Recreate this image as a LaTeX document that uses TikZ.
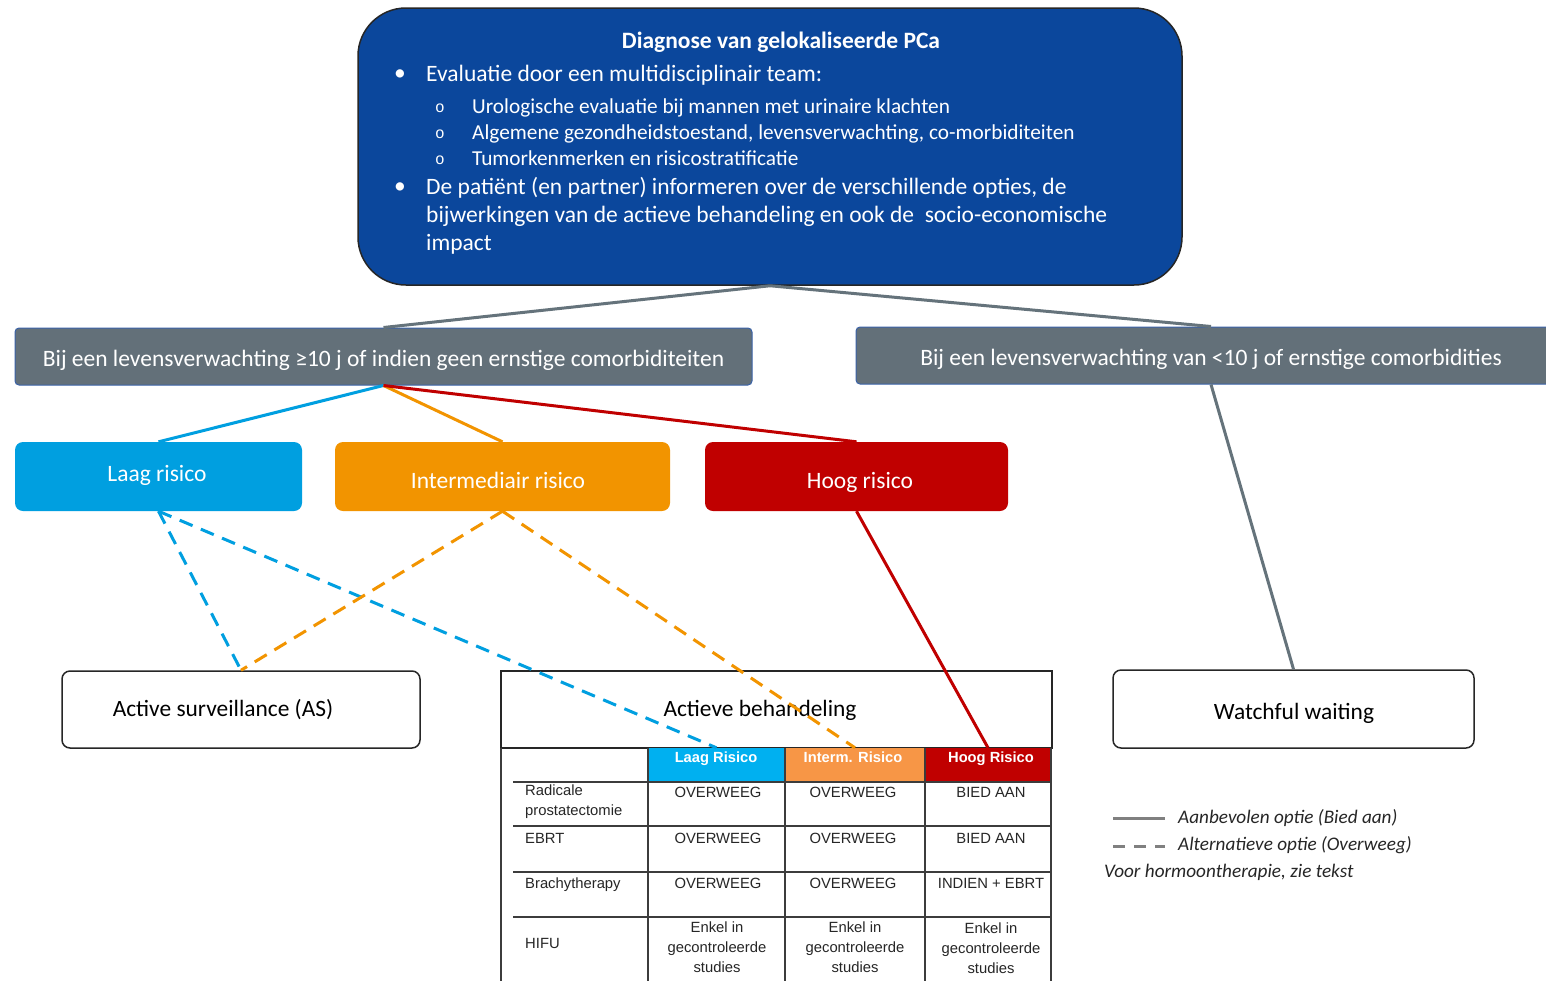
\documentclass[tikz,border=0pt]{standalone}
\usepackage{fontspec}
\setmainfont{Carlito}
\newfontfamily\arialf{Liberation Sans}
\newfontfamily\monof{Liberation Mono}
\definecolor{topblue}{HTML}{0B479C}
\definecolor{slate}{HTML}{637079}
\definecolor{slateline}{HTML}{65737B}
\definecolor{edgeblue}{HTML}{3A62A8}
\definecolor{laagc}{HTML}{009FE0}
\definecolor{interc}{HTML}{F29400}
\definecolor{hoogc}{HTML}{C00000}
\definecolor{hlaag}{HTML}{00B0F0}
\definecolor{hinter}{HTML}{F79646}
\definecolor{tline}{HTML}{3C3C3C}
\definecolor{legline}{HTML}{808080}
\begin{document}
\begin{tikzpicture}[x=1pt,y=-1pt,
  wtxt/.style={text=white, inner sep=0pt, font=\fontsize{23.5}{28}\selectfont},
  stxt/.style={text=white, inner sep=0pt, font=\fontsize{21.3}{25}\selectfont},
  btxt/.style={inner sep=0pt, anchor=mid, text=black, font=\fontsize{23.4}{28}\selectfont},
  graybox/.style={draw=edgeblue, line width=1pt, fill=slate, rounded corners=4pt, inner sep=0pt},
  riskbox/.style={rounded corners=8pt, inner sep=0pt, minimum height=69pt},
  outbox/.style={draw=black!85, line width=1.5pt, fill=white, inner sep=0pt, minimum height=77pt},
  hcell/.style={inner sep=0pt, minimum height=34pt},
  htxt/.style={text=white, inner sep=0pt, font=\arialf\bfseries\fontsize{14.7}{16}\selectfont},
  ctxt/.style={text=black!85, inner sep=0pt, font=\arialf\fontsize{14.8}{20}\selectfont},
  conn/.style={line width=3pt},
  tl/.style={draw=tline, line width=2pt},
  legtxt/.style={inner sep=0pt, anchor=mid west, text=black!85, font=\itshape\fontsize{19.2}{23}\selectfont}
]
\clip (0,0) rectangle (1546,980);
\fill[white] (0,0) rectangle (1546,980);

% top box
\node[draw=black!85, line width=1.5pt, fill=topblue, rounded corners=48pt,
      minimum width=824pt, minimum height=277pt, inner sep=0pt] (top) at (770,146.5) {};
\node[wtxt, font=\bfseries\fontsize{23.5}{28}\selectfont, anchor=mid] (title) at (781,46) {Diagnose van gelokaliseerde PCa};
\node[wtxt, anchor=mid] (bu1) at (400,78) {•};
\node[wtxt, anchor=mid west] (t1) at (426,79) {Evaluatie door een multidisciplinair team:};
\node[stxt, anchor=mid, font=\monof\fontsize{16}{18}\selectfont] (sb1) at (440,110) {o};
\node[stxt, anchor=mid, font=\monof\fontsize{16}{18}\selectfont] (sb2) at (440,136) {o};
\node[stxt, anchor=mid, font=\monof\fontsize{16}{18}\selectfont] (sb3) at (440,162) {o};
\node[stxt, anchor=mid west] (s1) at (472,111) {Urologische evaluatie bij mannen met urinaire klachten};
\node[stxt, anchor=mid west] (s2) at (472,137) {Algemene gezondheidstoestand, levensverwachting, co-morbiditeiten};
\node[stxt, anchor=mid west] (s3) at (472,163) {Tumorkenmerken en risicostratificatie};
\node[wtxt, anchor=mid] (bu2) at (400,191) {•};
\node[wtxt, anchor=mid west] (t2) at (426,192) {De patiënt (en partner) informeren over de verschillende opties, de};
\node[wtxt, anchor=mid west] (t3) at (426,220) {bijwerkingen van de actieve behandeling en ook de\ \ socio-economische};
\node[wtxt, anchor=mid west] (t4) at (426,248) {impact};

% gray boxes
\node[graybox, minimum width=737pt, minimum height=57pt] (gl) at (383.5,356.5) {};
\node[wtxt, anchor=mid] (glt) at (383.5,364) {Bij een levensverwachting ≥10 j of indien geen ernstige comorbiditeiten};
\node[graybox, minimum width=710pt, minimum height=57pt] (gr) at (1211,355.5) {};
\node[wtxt, anchor=mid] (grt) at (1211,363) {Bij een levensverwachting van <10 j of ernstige comorbidities};

% risk boxes
\node[riskbox, fill=laagc, minimum width=287pt] (laag) at (158.5,476.5) {};
\node[wtxt, anchor=mid] (laagt) at (157,479) {Laag risico};
\node[riskbox, fill=interc, minimum width=335pt] (inter) at (502.5,476.5) {};
\node[wtxt, anchor=mid] (intert) at (498,486) {Intermediair risico};
\node[riskbox, fill=hoogc, minimum width=303pt] (hoog) at (856.5,476.5) {};
\node[wtxt, anchor=mid] (hoogt) at (860,486) {Hoog risico};

% outcome boxes
\node[outbox, rounded corners=8pt, minimum width=358pt] (as) at (241,709.5) {};
\node[btxt] (ast) at (223,714) {Active surveillance (AS)};
\node[outbox, minimum width=551pt] (ab) at (776.5,709.5) {};
\node[btxt] (abt) at (760,714) {Actieve behandeling};
\node[outbox, rounded corners=8pt, minimum width=361pt, minimum height=78pt] (ww) at (1293.5,709) {};
\node[btxt] (wwt) at (1294,717) {Watchful waiting};

% table header
\node[hcell, fill=hlaag, minimum width=137pt] (hl) at (716.5,765) {};
\node[hcell, fill=hinter, minimum width=140pt] (hi) at (855,765) {};
\node[hcell, fill=hoogc, minimum width=126pt] (hh) at (988,765) {};
\node[htxt, anchor=mid] (hlt) at (716,760) {Laag Risico};
\node[htxt, anchor=mid] (hit) at (853,760) {Interm. Risico};
\node[htxt, anchor=mid] (hht) at (991,760) {Hoog Risico};

% table grid
\draw[tl] (501,748) -- (501,985);
\draw[tl] (648,748) -- (648,985);
\draw[tl] (785,748) -- (785,985);
\draw[tl] (925,748) -- (925,985);
\draw[tl] (1051,748) -- (1051,985);
\draw[tl] (513,782) -- (1051,782);
\draw[tl] (513,826) -- (1051,826);
\draw[tl] (513,872) -- (1051,872);
\draw[tl] (513,917) -- (1051,917);

% table body
\node[ctxt, anchor=mid west] (r1a) at (525,793) {Radicale};
\node[ctxt, anchor=mid west] (r1b) at (525,813) {prostatectomie};
\node[ctxt, anchor=mid] (c11) at (718,795) {OVERWEEG};
\node[ctxt, anchor=mid] (c12) at (853,795) {OVERWEEG};
\node[ctxt, anchor=mid] (c13) at (991,795) {BIED AAN};
\node[ctxt, anchor=mid west] (r2) at (525,841) {EBRT};
\node[ctxt, anchor=mid] (c21) at (718,841) {OVERWEEG};
\node[ctxt, anchor=mid] (c22) at (853,841) {OVERWEEG};
\node[ctxt, anchor=mid] (c23) at (991,841) {BIED AAN};
\node[ctxt, anchor=mid west] (r3) at (525,886) {Brachytherapy};
\node[ctxt, anchor=mid] (c31) at (718,886) {OVERWEEG};
\node[ctxt, anchor=mid] (c32) at (853,886) {OVERWEEG};
\node[ctxt, anchor=mid] (c33) at (991,886) {INDIEN + EBRT};
\node[ctxt, anchor=mid west] (r4) at (525,946) {HIFU};
\node[ctxt, align=center] (c41) at (717,947) {Enkel in\\gecontroleerde\\studies};
\node[ctxt, align=center] (c42) at (855,947) {Enkel in\\gecontroleerde\\studies};
\node[ctxt, align=center] (c43) at (991,948) {Enkel in\\gecontroleerde\\studies};

% connectors
\draw[conn, slateline] (top.south) -- (gl.north);
\draw[conn, slateline] (top.south) -- (gr.north);
\draw[conn, slateline] (gr.south) -- (ww.north);
\draw[conn, laagc] (gl.south) -- (laag.north);
\draw[conn, interc] (gl.south) -- (inter.north);
\draw[conn, hoogc] (gl.south) -- (hoog.north);
\draw[conn, laagc, dash pattern=on 14pt off 9pt] (laag.south) -- (as.north);
\draw[conn, laagc, dash pattern=on 14pt off 9pt] (laag.south) -- (hl.north);
\draw[conn, interc, dash pattern=on 14pt off 9pt] (inter.south) -- (as.north);
\draw[conn, interc, dash pattern=on 14pt off 9pt] (inter.south) -- (hi.north);
\draw[conn, hoogc] (hoog.south) -- (hh.north);

% legend
\coordinate (l1a) at (1113,818);
\coordinate (l1b) at (1165,818);
\coordinate (l2a) at (1113,846);
\coordinate (l2b) at (1165,846);
\draw[line width=3pt, legline] (l1a) -- (l1b);
\draw[line width=3pt, legline, dash pattern=on 12pt off 9pt] (l2a) -- (l2b);
\node[legtxt] (lt1) at (1178,821) {Aanbevolen optie (Bied aan)};
\node[legtxt] (lt2) at (1178,848) {Alternatieve optie (Overweeg)};
\node[legtxt] (lt3) at (1104,875) {Voor hormoontherapie, zie tekst};
\end{tikzpicture}
\end{document}
